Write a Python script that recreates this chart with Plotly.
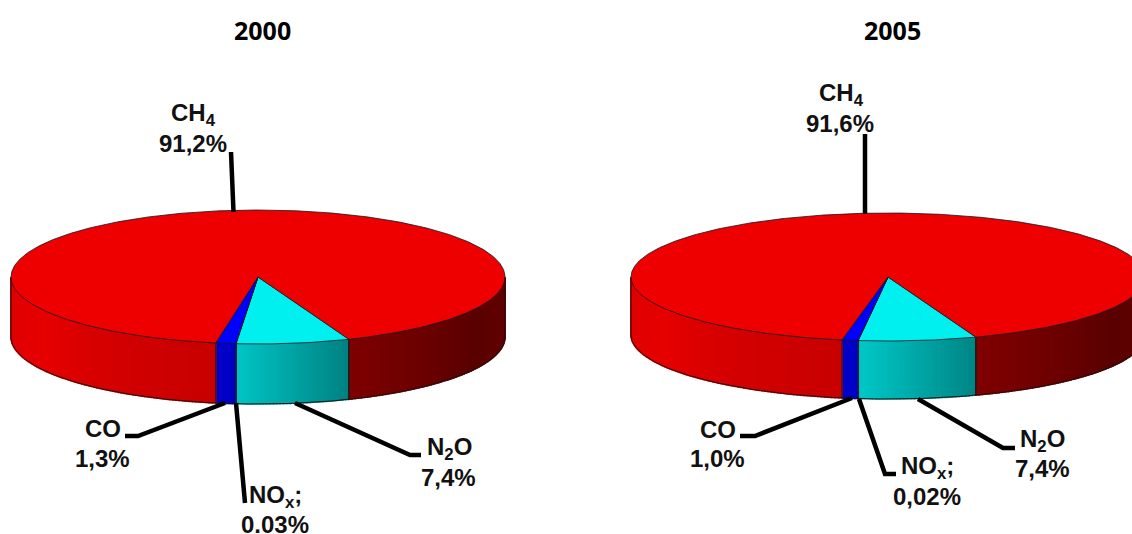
import numpy as np
import plotly.graph_objects as go

# --- data (slice order runs clockwise from the N2O edge) ---
gases = ["N2O", "NOx", "CO", "CH4"]
values_2000 = [7.4, 0.03, 1.3, 91.2]
values_2005 = [7.4, 0.02, 1.0, 91.6]
labels_2000 = ["7,4%", "0.03%", "1,3%", "91,2%"]
labels_2005 = ["7,4%", "0,02%", "1,0%", "91,6%"]
names = {"N2O": "N<sub>2</sub>O", "NOx": "NO<sub>x</sub>;", "CO": "CO", "CH4": "CH<sub>4</sub>"}
titles = ["2000", "2005"]

# --- layout / style ---
W, H = 1132, 534
TOP = {"N2O": "#00f0f0", "NOx": "#0000ff", "CO": "#0000ff", "CH4": "#ee0000"}
BASE = {"N2O": (0, 240, 240), "NOx": (0, 0, 240), "CO": (0, 0, 240), "CH4": (238, 0, 0)}
SHADE_T = [0, 30, 68, 95, 100, 130, 150, 180]
SHADE_V = [.42, .38, .53, .82, .84, .90, .97, .93]
TEXT = "#111111"
LABEL_FONT = dict(family="Liberation Sans", size=24, color=TEXT)

PIES = [
    dict(title=titles[0], values=values_2000, labels=labels_2000, cx=258, cy=277, rx=247, ry=67, depth=60, t0=68.4,
         title_xy=(262, 30),
         leaders={"CH4": [(231, 152), (233.5, 212)],
                  "CO": [(225, 403), (138, 436), (125, 436)],
                  "NOx": [(236, 403), (245, 503)],
                  "N2O": [(295, 403), (410, 455), (421, 455)]},
         text={"CH4": ((193, 114), (192.5, 143)),
               "CO": ((102.5, 428), (102, 458)),
               "NOx": ((275.5, 496), (275, 524)),
               "N2O": ((449, 448), (448, 477))}),
    dict(title=titles[1], values=values_2005, labels=labels_2005, cx=888, cy=277, rx=257, ry=64, depth=58, t0=70,
         title_xy=(892, 30),
         leaders={"CH4": [(865, 134), (865, 214)],
                  "CO": [(852, 398), (755, 436), (740, 436)],
                  "NOx": [(859, 399), (885, 474), (896, 474)],
                  "N2O": [(918, 399), (1003, 448), (1015, 448)]},
         text={"CH4": ((841, 94), (840, 123)),
               "CO": ((718, 429), (717, 458)),
               "NOx": ((927, 467), (927, 496)),
               "N2O": ((1042, 440), (1042, 468))}),
]


def ell(p, t, dz=0):
    a = np.radians(t)
    return p["cx"] + p["rx"] * np.cos(a), p["cy"] + p["ry"] * np.sin(a) + dz


def colour(gas, t):
    s = float(np.interp(t, SHADE_T, SHADE_V))
    return "rgb(%d,%d,%d)" % tuple(int(c * s) for c in BASE[gas])


fig = go.Figure()
annotations = []

for p in PIES:
    total = sum(p["values"])
    edges = p["t0"] + np.cumsum([0] + [v / total * 360 for v in p["values"]])
    # side wall, front half only, in thin shaded strips
    for g, a, b in zip(gases, edges[:-1], edges[1:]):
        for lo, hi in ((0, 180), (360, 540)):
            s, e = max(a, lo), min(b, hi)
            if e <= s:
                continue
            n = max(1, int(np.ceil((e - s) / 0.8)))
            ts = np.linspace(s, e, n + 1)
            for t1, t2 in zip(ts[:-1], ts[1:]):
                arc = np.array([t1, t2])
                xt, yt = ell(p, arc)
                xb, yb = ell(p, arc[::-1], p["depth"])
                c = colour(g, ((t1 + t2) / 2) % 360)
                fig.add_trace(go.Scatter(x=np.r_[xt, xb, xt[0]], y=np.r_[yt, yb, yt[0]], mode="lines",
                                         fill="toself", fillcolor=c, line=dict(color=c, width=1.5),
                                         hoverinfo="skip", showlegend=False))
    # wall seams between the slices
    for t in edges:
        if 0 < t % 360 < 180:
            x1, y1 = ell(p, t)
            x2, y2 = ell(p, t, p["depth"])
            fig.add_trace(go.Scatter(x=[x1, x2], y=[y1, y2], mode="lines",
                                     line=dict(color="#102020", width=1),
                                     hoverinfo="skip", showlegend=False))
    # silhouette of the wall
    arc = np.linspace(0, 180, 181)
    xb, yb = ell(p, arc, p["depth"])
    xl, yl = ell(p, 180)
    xr, yr = ell(p, 0)
    fig.add_trace(go.Scatter(x=np.r_[xr, xb, xl], y=np.r_[yr, yb, yl], mode="lines",
                             line=dict(color="#201010", width=1), hoverinfo="skip", showlegend=False))
    # top face
    for g, a, b in zip(gases, edges[:-1], edges[1:]):
        arc = np.linspace(a, b, max(2, int(b - a) * 2))
        xt, yt = ell(p, arc)
        fig.add_trace(go.Scatter(x=np.r_[p["cx"], xt, p["cx"]], y=np.r_[p["cy"], yt, p["cy"]], mode="lines",
                                 fill="toself", fillcolor=TOP[g], line=dict(color="#101820", width=0.8),
                                 hoverinfo="skip", showlegend=False, name=g))
    # leader lines and labels
    for i, g in enumerate(gases):
        pts = p["leaders"][g]
        fig.add_trace(go.Scatter(x=[q[0] for q in pts], y=[q[1] for q in pts], mode="lines",
                                 line=dict(color="#000000", width=4.5), hoverinfo="skip", showlegend=False))
        (x1, y1), (x2, y2) = p["text"][g]
        for txt, x, y in ((names[g], x1, y1), (p["labels"][i], x2, y2)):
            annotations.append(dict(x=x, y=y, text="<b>%s</b>" % txt, showarrow=False,
                                    xanchor="center", yanchor="middle", font=LABEL_FONT))
    annotations.append(dict(x=p["title_xy"][0], y=p["title_xy"][1], text="<b>%s</b>" % p["title"], showarrow=False,
                            xanchor="center", yanchor="middle",
                            font=dict(family="Open Sans", size=25, color="#000000")))

fig.update_layout(
    width=W, height=H, margin=dict(l=0, r=0, t=0, b=0), paper_bgcolor="white", plot_bgcolor="white",
    xaxis=dict(range=[0, W], visible=False, fixedrange=True),
    yaxis=dict(range=[H, 0], visible=False, fixedrange=True),
    annotations=annotations, showlegend=False,
)
fig.write_html("out.html", config=dict(displayModeBar=False),
               post_script="document.body.style.margin='0';")
